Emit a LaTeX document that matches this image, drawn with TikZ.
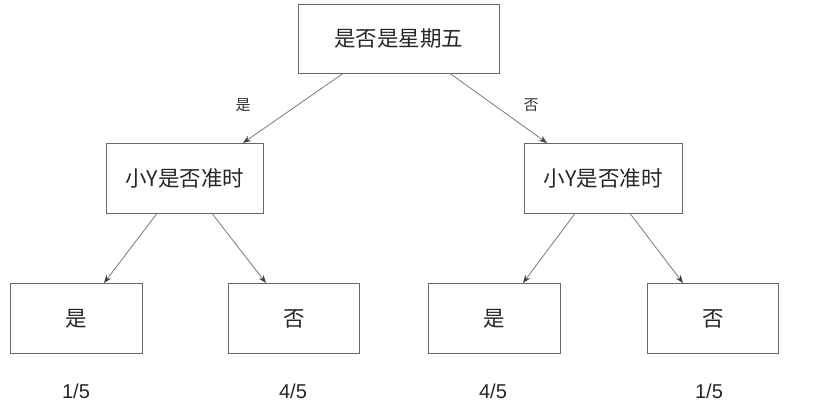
\documentclass[tikz,border=0pt]{standalone}
\usepackage{fontspec}
\newfontfamily\cjk{Noto Sans CJK SC}
\setmainfont{Liberation Sans}
\usetikzlibrary{arrows.meta}
\definecolor{boxline}{HTML}{666666}
\definecolor{arrline}{HTML}{7A7A7A}
\begin{document}
\begin{tikzpicture}[x=1pt,y=-1pt,
  box/.style={draw=boxline,line width=0.9pt,fill=white,anchor=north west,inner sep=0pt,
    font=\cjk\fontsize{21.5}{24}\selectfont,text=black!85},
  conn/.style={draw=arrline,line width=0.8pt,-{Stealth[length=8pt,width=6pt,color=black!75]}},
  elabel/.style={font=\cjk\fontsize{15}{17}\selectfont,text=black!80},
  prob/.style={font=\fontsize{20}{22}\selectfont,text=black!85}]
\useasboundingbox (0,0) rectangle (830,414);
\node[box,minimum width=201pt,minimum height=69pt] (top) at (298,4) {是否是星期五};
\node[box,minimum width=157pt,minimum height=70pt] (ml) at (106,143) {小Y是否准时};
\node[box,minimum width=158pt,minimum height=70pt] (mr) at (524,143) {小Y是否准时};
\node[box,minimum width=132pt,minimum height=70pt] (b1) at (10,283) {是};
\node[box,minimum width=131pt,minimum height=70pt] (b2) at (228,283) {否};
\node[box,minimum width=132pt,minimum height=70pt] (b3) at (428,283) {是};
\node[box,minimum width=131pt,minimum height=70pt] (b4) at (647,283) {否};
\coordinate (t1) at (343,73.5);
\coordinate (t2) at (450,73.5);
\coordinate (l1) at (157,213.5);
\coordinate (l2) at (212,213.5);
\coordinate (r1) at (575,213.5);
\coordinate (r2) at (630,213.5);
\draw[conn] (t1) -- (ml.north west -| 243,0);
\draw[conn] (t2) -- (mr.north west -| 547,0);
\draw[conn] (l1) -- (b1.north west -| 104,0);
\draw[conn] (l2) -- (b2.north west -| 266,0);
\draw[conn] (r1) -- (b3.north west -| 523,0);
\draw[conn] (r2) -- (b4.north west -| 683,0);
\node[elabel] (lyes) at (243,105) {是};
\node[elabel] (lno) at (531,105) {否};
\node[prob] (p1) at (76,391) {1/5};
\node[prob] (p2) at (293,391) {4/5};
\node[prob] (p3) at (493,391) {4/5};
\node[prob] (p4) at (709,391) {1/5};
\end{tikzpicture}
\end{document}
